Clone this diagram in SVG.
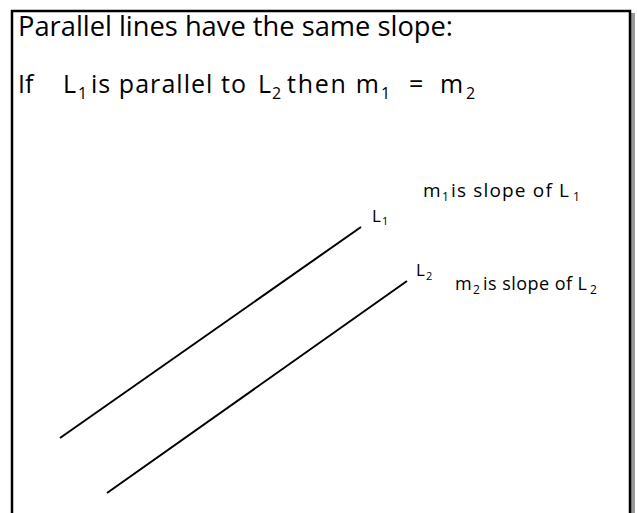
<svg xmlns="http://www.w3.org/2000/svg" width="637" height="513" viewBox="0 0 637 513">
<style>
text{font-family:"Open Sans","Liberation Sans",sans-serif;fill:#000}
.t{font-size:27px}
.s{font-size:25px}
.ss{font-size:16px}
.m1{font-size:19px}
.m2{font-size:18px}
.sb{font-size:12px}
.lb{font-size:17px}
.lsb{font-size:11px}
.ln{stroke:#000;stroke-width:2;fill:none}
</style>
<rect width="637" height="513" fill="#fff"/>
<g id="frame">
<rect x="631" y="13" width="4" height="500" fill="#999"/>
<path d="M12 513 V11 H630 V513" fill="none" stroke="#000" stroke-width="2.5"/>
</g>
<g id="title">
<text class="t" x="18" y="36" textLength="435" lengthAdjust="spacingAndGlyphs">Parallel lines have the same slope:</text>
</g>
<g id="statement">
<text class="s" y="93"><tspan x="18">If</tspan><tspan x="63">L</tspan><tspan class="ss" x="78" dy="6">1</tspan><tspan x="91" dy="-6" textLength="155">is parallel to</tspan><tspan x="258">L</tspan><tspan class="ss" x="272" dy="6">2</tspan><tspan x="287" dy="-6" textLength="92">then m</tspan><tspan class="ss" x="381" dy="6">1</tspan><tspan x="409" dy="-6">=</tspan><tspan x="440">m</tspan><tspan class="ss" x="466" dy="6">2</tspan></text>
</g>
<g id="connectors">
<line class="ln" x1="60" y1="438" x2="361" y2="227"/>
<line class="ln" x1="107" y1="493" x2="407" y2="281"/>
</g>
<g id="L1">
<text class="lb" x="372" y="222">L<tspan class="lsb" x="382" dy="3">1</tspan></text>
</g>
<g id="L2">
<text class="lb" x="416" y="276">L<tspan class="lsb" x="426" dy="4">2</tspan></text>
</g>
<g id="m1">
<text class="m1" x="423" y="197">m<tspan class="sb" x="442" dy="4">1</tspan><tspan x="451" dy="-4" textLength="118">is slope of L</tspan><tspan class="sb" x="573" dy="4">1</tspan></text>
</g>
<g id="m2">
<text class="m2" x="455" y="290">m<tspan class="sb" x="473" dy="4">2</tspan><tspan x="483" dy="-4" textLength="104">is slope of L</tspan><tspan class="sb" x="590" dy="4">2</tspan></text>
</g>
</svg>
